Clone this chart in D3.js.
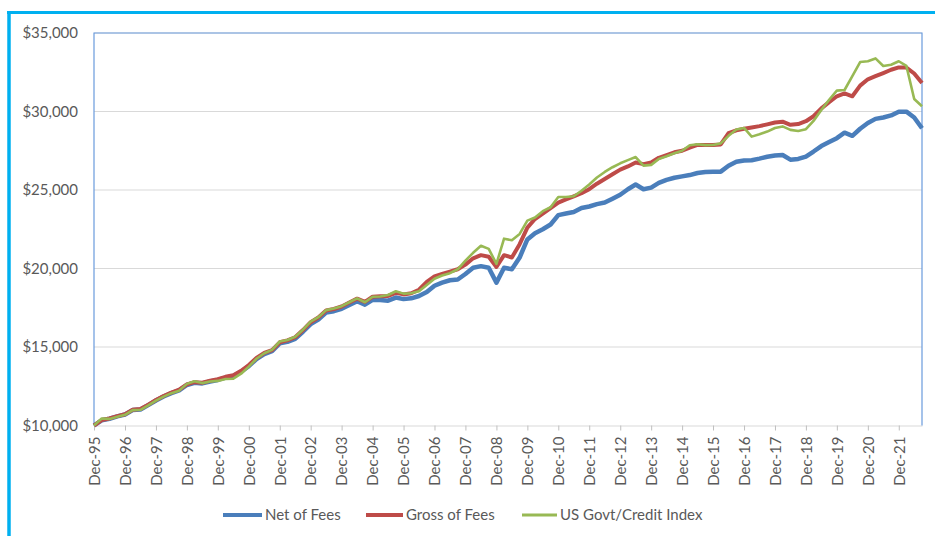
<!DOCTYPE html>
<html>
<head>
<meta charset="utf-8">
<script src="https://cdn.jsdelivr.net/npm/d3@7"></script>
<style>
  body { margin: 0; background: #fff; }
  svg { display: block; font-family: Lato, "Open Sans", sans-serif; }
</style>
</head>
<body>
<svg id="chart"></svg>
<script>
// quarterly values, Dec-95 .. Sep-22
const netOfFees = [
  10000, 10330, 10430, 10580, 10700, 10980, 11020, 11300, 11590, 11850, 12060, 12240,
  12580, 12720, 12680, 12800, 12900, 13050, 13150, 13420, 13780, 14230, 14550, 14730,
  15230, 15330, 15520, 15970, 16460, 16750, 17200, 17280, 17430, 17680, 17920, 17700,
  18000, 18000, 17950, 18150, 18050, 18100, 18250, 18500, 18900, 19100, 19250, 19300,
  19650, 20050, 20150, 20050, 19100, 20050, 19950, 20700, 21850, 22250, 22500, 22800,
  23400, 23500, 23600, 23850, 23950, 24100, 24200, 24450, 24700, 25050, 25350, 25050,
  25150, 25450, 25640, 25780, 25870, 25950, 26080, 26150, 26170, 26170, 26550, 26800,
  26880, 26900, 27000, 27120, 27200, 27230, 26930, 26980, 27130, 27450, 27800, 28050,
  28300, 28650, 28450, 28900, 29270, 29530, 29620, 29750, 29990, 29990, 29620, 28930
];
const grossOfFees = [
  10000, 10350, 10450, 10600, 10720, 11000, 11050, 11330, 11620, 11880, 12100, 12280,
  12620, 12760, 12720, 12850, 12950, 13100, 13200, 13480, 13850, 14300, 14620, 14800,
  15300, 15420, 15620, 16080, 16580, 16880, 17330, 17420, 17580, 17830, 18080, 17870,
  18200, 18230, 18250, 18450, 18350, 18420, 18650, 19150, 19500, 19650, 19800, 19950,
  20250, 20650, 20850, 20750, 20100, 20850, 20700, 21550, 22600, 23150, 23500, 23850,
  24200, 24400, 24600, 24800, 25050, 25400, 25700, 26000, 26300, 26500, 26750, 26650,
  26750, 27050, 27220, 27400, 27500, 27700, 27870, 27870, 27870, 27900, 28620, 28800,
  28900, 28980, 29070, 29180, 29300, 29350, 29150, 29200, 29380, 29700, 30200, 30600,
  30970, 31150, 30970, 31650, 32050, 32250, 32450, 32660, 32810, 32800, 32420, 31810
];
const govtCreditIndex = [
  10000, 10450, 10420, 10560, 10680, 10980, 11000, 11280, 11580, 11840, 12060, 12220,
  12650, 12820, 12700, 12800, 12840, 12960, 12980, 13300, 13750, 14250, 14600, 14820,
  15350, 15450, 15650, 16100, 16620, 16900, 17350, 17450, 17600, 17850, 18100, 17850,
  18200, 18220, 18310, 18550, 18400, 18420, 18550, 18950, 19350, 19550, 19700, 19950,
  20500, 21000, 21450, 21250, 20300, 21900, 21800, 22200, 23050, 23250, 23650, 23900,
  24550, 24550, 24600, 24950, 25350, 25800, 26150, 26450, 26700, 26900, 27100, 26550,
  26600, 26980, 27150, 27340, 27500, 27850, 27910, 27860, 27870, 27970, 28450, 28850,
  28950, 28400, 28550, 28720, 28950, 29050, 28830, 28760, 28870, 29400, 30100, 30750,
  31330, 31370, 32250, 33150, 33200, 33380, 32900, 32980, 33200, 32900, 30800, 30330
];
const seriesNames = ["Net of Fees", "Gross of Fees", "US Govt/Credit Index"];
const yTicks = [10000, 15000, 20000, 25000, 30000, 35000];
const tickYears = d3.range(1995, 2022); // Dec-95 .. Dec-21

const width = 935, height = 536;
const margin = { top: 33, right: 13, bottom: 110.5, left: 94 };
const colors = ["#4A7EBB", "#BE4B48", "#98B954"];
const lineWidths = [4.5, 4, 2.6];

const svg = d3.select("#chart")
    .attr("width", width)
    .attr("height", height);

// outer frame (only top and left edges are in view)
svg.append("line")
    .attr("x1", 7).attr("x2", width)
    .attr("y1", 12.5).attr("y2", 12.5)
    .attr("stroke", "#00B0F0").attr("stroke-width", 3);
svg.append("line")
    .attr("x1", 9).attr("x2", 9)
    .attr("y1", 11).attr("y2", height)
    .attr("stroke", "#00B0F0").attr("stroke-width", 3.5);

const start = new Date(1995, 11, 1);
const dates = d3.range(netOfFees.length).map(i => d3.timeMonth.offset(start, i * 3));

const x = d3.scaleTime()
    .domain([start, dates[dates.length - 1]])
    .range([margin.left, width - margin.right]);
const y = d3.scaleLinear()
    .domain([10000, 35000])
    .range([height - margin.bottom, margin.top]);

// gridlines
svg.append("g")
    .selectAll("line")
    .data(yTicks.slice(1))
    .join("line")
    .attr("x1", margin.left).attr("x2", width - margin.right)
    .attr("y1", d => y(d)).attr("y2", d => y(d))
    .attr("stroke", "#D9D9D9").attr("stroke-width", 1.2);

// y labels
svg.append("g")
    .selectAll("text")
    .data(yTicks)
    .join("text")
    .attr("x", 78)
    .attr("y", d => y(d))
    .attr("dy", "0.35em")
    .attr("text-anchor", "end")
    .attr("fill", "#595959")
    .attr("font-size", 15)
    .text(d => "$" + d3.format(",")(d));

// x axis
const tickDates = tickYears.map(yr => new Date(yr, 11, 1));
const xAxis = d3.axisBottom(x)
    .tickValues(tickDates)
    .tickFormat(d3.timeFormat("%b-%y"))
    .tickSize(5)
    .tickSizeOuter(0);
const xg = svg.append("g")
    .attr("transform", `translate(0,${y(10000)})`)
    .call(xAxis);
xg.select(".domain").attr("stroke", "#D9D9D9").attr("stroke-width", 1.2);
xg.selectAll(".tick line").attr("stroke", "#BFBFBF");
xg.selectAll(".tick text")
    .attr("fill", "#595959")
    .attr("font-size", 15)
    .attr("font-family", "Lato, 'Open Sans', sans-serif")
    .attr("text-anchor", "end")
    .attr("transform", "rotate(-90)")
    .attr("x", -11)
    .attr("y", 0)
    .attr("dy", "0.35em");

// plot area border (left, top, right)
svg.append("path")
    .attr("d", `M${margin.left},${y(10000)}V${margin.top}H${width - margin.right}V${y(10000)}`)
    .attr("fill", "none")
    .attr("stroke", "#6A9BDD")
    .attr("stroke-width", 1.2);

// series lines
const series = [netOfFees, grossOfFees, govtCreditIndex];
const line = d3.line()
    .x((d, i) => x(dates[i]))
    .y(d => y(d));
series.forEach((vals, k) => {
    svg.append("path")
        .datum(vals)
        .attr("fill", "none")
        .attr("stroke", colors[k])
        .attr("stroke-width", lineWidths[k])
        .attr("stroke-linejoin", "round")
        .attr("d", line);
});

// legend
const legendX = [223, 366, 522];
const legendLen = [39, 37, 35];
const legend = svg.append("g").attr("transform", "translate(0,515)");
seriesNames.forEach((name, k) => {
    legend.append("line")
        .attr("x1", legendX[k]).attr("x2", legendX[k] + legendLen[k])
        .attr("y1", 0).attr("y2", 0)
        .attr("stroke", colors[k])
        .attr("stroke-width", k === 2 ? 3 : 4);
    legend.append("text")
        .attr("x", legendX[k] + legendLen[k] + 3)
        .attr("y", 0)
        .attr("dy", "0.35em")
        .attr("fill", "#595959")
        .attr("font-size", 15)
        .text(name);
});
</script>
</body>
</html>
